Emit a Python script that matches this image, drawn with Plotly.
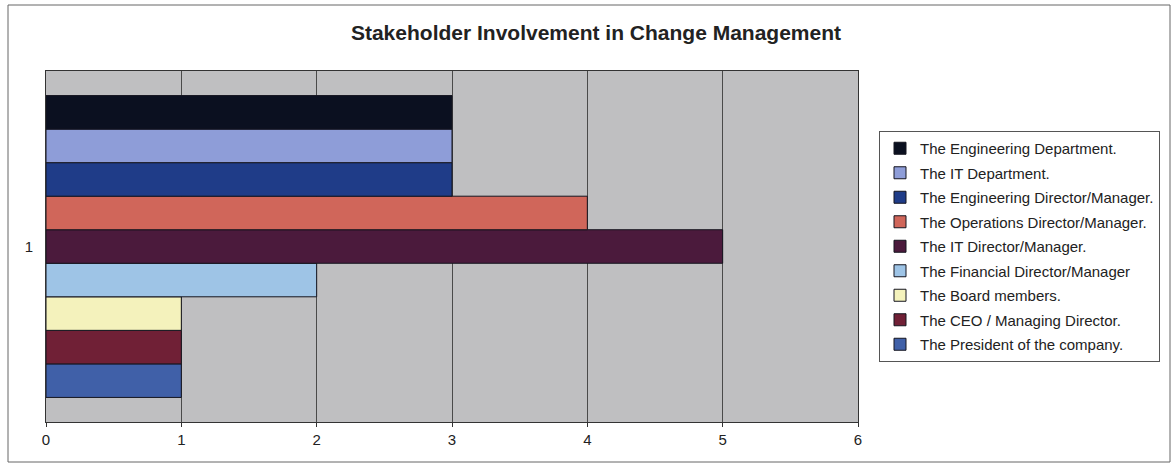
import plotly.graph_objects as go

# Stakeholder groups, listed bottom-to-top as drawn in the grouped bar
stakeholders = [
    "The President of the company.",
    "The CEO / Managing Director.",
    "The Board members.",
    "The Financial Director/Manager",
    "The IT Director/Manager.",
    "The Operations Director/Manager.",
    "The Engineering Director/Manager.",
    "The IT Department.",
    "The Engineering Department.",
]
counts = [1, 1, 1, 2, 5, 4, 3, 3, 3]
colors = [
    "#4060A8", "#702036", "#F4F2BC", "#9EC4E6", "#4B1A3C",
    "#D0665A", "#1F3C88", "#8E9DD8", "#0B1020",
]
category = ["1"]
x_ticks = [0, 1, 2, 3, 4, 5, 6]

W, H = 1175, 469
L, R, T, B = 46, 1175 - 858, 71, 469 - 422
pw, ph = W - L - R, H - T - B

def px_x(p):
    return (p - L) / pw

def px_y(p):
    return (H - B - p) / ph

fig = go.Figure()
n = len(stakeholders)
for i, (name, val, col) in enumerate(zip(stakeholders, counts, colors)):
    fig.add_trace(go.Bar(
        y=category, x=[val], name=name, orientation="h",
        marker=dict(color=col, line=dict(color="#15151f", width=1)),
        legendgroup=name, legendrank=n - i,
    ))

font = "Arial, 'Liberation Sans', sans-serif"
fig.update_layout(
    width=W, height=H,
    margin=dict(l=L, r=R, t=T, b=B, autoexpand=False),
    barmode="group", bargap=0.14, bargroupgap=0,
    plot_bgcolor="#BFBFC1", paper_bgcolor="#FFFFFF",
    font=dict(family=font, size=14, color="#222222"),
    title=dict(
        text="<b>Stakeholder Involvement in Change Management</b>",
        x=596 / W, xanchor="center", xref="container",
        y=1 - 33 / H, yanchor="middle",
        font=dict(family=font, size=21, color="#222222"),
    ),
    xaxis=dict(
        range=[0, 6], tickvals=x_ticks, showgrid=True, gridcolor="#4a4a4a",
        gridwidth=1, showline=True, linecolor="#333333", mirror=True,
        ticks="outside", ticklen=4, tickcolor="#333333",
        tickfont=dict(size=15, color="#222222"), zeroline=False,
    ),
    yaxis=dict(
        showline=True, linecolor="#333333", mirror=True, ticks="",
        tickfont=dict(size=15, color="#222222"), ticklabelstandoff=9,
    ),
    legend=dict(
        x=px_x(879), xanchor="left", y=px_y(131), yanchor="top",
        traceorder="grouped", tracegroupgap=2,
        bordercolor="#555555", borderwidth=1, bgcolor="#FFFFFF",
        font=dict(family=font, size=15, color="#222222"),
        itemwidth=30,
    ),
    showlegend=True,
    shapes=[dict(
        type="rect", xref="paper", yref="paper",
        x0=px_x(8), x1=px_x(1170), y0=px_y(462), y1=px_y(5),
        line=dict(color="#666666", width=1), layer="below",
    )],
)

fig.write_html("out.html")
